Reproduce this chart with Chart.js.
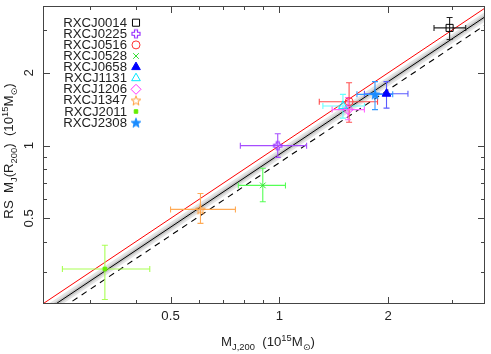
<!DOCTYPE html>
<html>
<head>
<meta charset="utf-8">
<script src="https://cdn.jsdelivr.net/npm/chart.js"></script>
<style>
  html, body { margin:0; padding:0; background:#fff; }
  #wrap { position:relative; width:491px; height:354px; }
</style>
</head>
<body>
<div id="wrap"><canvas id="massChart"></canvas></div>
<script>
//=========================================
// Data
//=========================================
const clusters = ['RXCJ0014','RXCJ0225','RXCJ0516','RXCJ0528','RXCJ0658',
                  'RXCJ1131','RXCJ1206','RXCJ1347','RXCJ2011','RXCJ2308'];

// M_J,200 (10^15 Msun) with lower / upper error ends
const massJ    = [2.96, 0.99, 1.56, 0.90, 1.98, 1.50, 1.55, 0.605, 0.329, 1.84];
const massJLo  = [2.68, 0.78, 1.29, 0.77, 1.72, 1.32, 1.40, 0.50,  0.251, 1.64];
const massJHi  = [3.28, 1.19, 1.87, 1.04, 2.27, 1.72, 1.72, 0.756, 0.438, 2.06];

// RS M_J(R200) (10^15 Msun)
const massRS   = [3.07, 1.00, 1.52, 0.685, 1.64, 1.46, 1.41, 0.545, 0.309, 1.63];
const massRSLo = [2.75, 0.894, 1.25, 0.586, 1.43, 1.30, 1.28, 0.477, 0.231, 1.41];
const massRSHi = [3.39, 1.12, 1.82, 0.806, 1.84, 1.63, 1.58, 0.634, 0.387, 1.84];

const majorTicks  = [0.5, 1, 2];
const majorLabels = ['0.5', '1', '2'];
const minorTicks  = [0.3, 0.4, 0.6, 0.7, 0.8, 0.9, 3];

// reference lines (end points)
const lineX   = [0.2, 4];
const equalY  = [0.2, 4];
const fitY    = [0.184, 3.68];
const dashY   = [0.170, 3.40];
const bandHi  = [0.193, 3.85];
const bandLo  = [0.176, 3.52];
const bandHi2 = [0.188, 3.76];
const bandLo2 = [0.180, 3.60];

//=========================================
// Styles
//=========================================
const markColors = ['#000000','#9933ff','#ff3333','#33dd33','#0000ff',
                    '#00e5ff','#ff33ff','#ff9933','#66ee00','#1a8cff'];
const errColors  = ['#222222','#a64dff','#ff4d4d','#55ff55','#5c5cff',
                    '#66ffff','#ff66ff','#ffaa55','#aaff55','#3399ff'];

const textStretch = 1.1;
const FONT = '"Liberation Sans", "DejaVu Sans", Arial, sans-serif';

function makeStar(fill, stroke, r){
    const c = document.createElement('canvas');
    const s = Math.ceil(r*2 + 4);
    c.width = s; c.height = s;
    const g = c.getContext('2d');
    g.translate(s/2, s/2 + 0.5);
    g.beginPath();
    for (let k = 0; k < 10; k++){
        const rr = k % 2 ? r*0.42 : r;
        const a = -Math.PI/2 + k*Math.PI/5;
        g.lineTo(rr*Math.cos(a), rr*Math.sin(a));
    }
    g.closePath();
    if (fill){ g.fillStyle = fill; g.fill(); }
    g.strokeStyle = stroke; g.lineWidth = 1; g.stroke();
    return c;
}

function makePlus(stroke, r, t){
    const c = document.createElement('canvas');
    const s = Math.ceil(r*2 + 4);
    c.width = s; c.height = s;
    const g = c.getContext('2d');
    g.translate(s/2, s/2);
    const p = [[-t,-r],[t,-r],[t,-t],[r,-t],[r,t],[t,t],[t,r],[-t,r],[-t,t],[-r,t],[-r,-t],[-t,-t]];
    g.beginPath();
    p.forEach(q => g.lineTo(q[0], q[1]));
    g.closePath();
    g.strokeStyle = stroke; g.lineWidth = 1.2; g.stroke();
    return c;
}

const pointStyles = ['rect', makePlus('#9933ff', 4, 1.5), 'circle', 'crossRot', 'triangle',
                     'triangle', 'rectRot', makeStar(null, '#ff9933', 5), 'rect', makeStar('#1a8cff', '#1a8cff', 5)];
const pointFills  = ['rgba(0,0,0,0)','rgba(0,0,0,0)','rgba(0,0,0,0)','rgba(0,0,0,0)','#0000ff',
                     'rgba(0,0,0,0)','rgba(0,0,0,0)','rgba(0,0,0,0)','#66ee00','#1a8cff'];
const pointRadii  = [5, 5, 4, 4, 5, 5, 5, 5, 2.5, 5];

//=========================================
// Helpers
//=========================================
function drawRich(ctx, segs, x, y, align, rotate){
    ctx.save();
    ctx.translate(x, y);
    if (rotate) ctx.rotate(rotate);
    ctx.scale(textStretch, 1);
    let w = 0;
    segs.forEach(s => {
        ctx.font = (s.sub || s.sup ? '8.5px ' : '12px ') + FONT;
        w += ctx.measureText(s.t).width;
    });
    let cx = align === 'center' ? -w/2 : (align === 'right' ? -w : 0);
    ctx.fillStyle = '#222';
    ctx.textAlign = 'left';
    ctx.textBaseline = 'alphabetic';
    segs.forEach(s => {
        ctx.font = (s.sub || s.sup ? '8.5px ' : '12px ') + FONT;
        ctx.fillText(s.t, cx, s.sub ? 3.5 : (s.sup ? -5 : 0));
        cx += ctx.measureText(s.t).width;
    });
    ctx.restore();
}

const xTitle = [{t:'M'},{t:'J,200',sub:true},{t:'  (10'},{t:'15',sup:true},{t:'M'},{t:'\u2299',sub:true},{t:')'}];
const yTitle = [{t:'RS  M'},{t:'J',sub:true},{t:'(R'},{t:'200',sub:true},{t:')  (10'},{t:'15',sup:true},{t:'M'},{t:'\u2299',sub:true},{t:')'}];

//------------------------------------
// Error bars (drawn under the markers)
//------------------------------------
const errorBarPlugin = {
    id: 'errorBars',
    beforeDatasetDraw(chart, args){
        if (args.index !== 0) return;
        const ctx = chart.ctx, xs = chart.scales.x, ys = chart.scales.y;
        const cap = 3;
        ctx.save();
        ctx.lineWidth = 1.1;
        for (let i = 0; i < clusters.length; i++){
            const px = xs.getPixelForValue(massJ[i]);
            const py = ys.getPixelForValue(massRS[i]);
            const x0 = xs.getPixelForValue(massJLo[i]);
            const x1 = xs.getPixelForValue(massJHi[i]);
            const y0 = ys.getPixelForValue(massRSLo[i]);
            const y1 = ys.getPixelForValue(massRSHi[i]);
            ctx.strokeStyle = errColors[i];
            ctx.beginPath();
            ctx.moveTo(x0, py); ctx.lineTo(x1, py);
            ctx.moveTo(x0, py - cap); ctx.lineTo(x0, py + cap);
            ctx.moveTo(x1, py - cap); ctx.lineTo(x1, py + cap);
            ctx.moveTo(px, y0); ctx.lineTo(px, y1);
            ctx.moveTo(px - cap, y0); ctx.lineTo(px + cap, y0);
            ctx.moveTo(px - cap, y1); ctx.lineTo(px + cap, y1);
            ctx.stroke();
        }
        ctx.restore();
    }
};

//------------------------------------
// Frame, ticks, labels, legend
//------------------------------------
const framePlugin = {
    id: 'frame',
    afterDraw(chart){
        const ctx = chart.ctx, a = chart.chartArea;
        const xs = chart.scales.x, ys = chart.scales.y;
        ctx.save();
        ctx.strokeStyle = '#444';
        ctx.lineWidth = 1;
        ctx.strokeRect(a.left + 0.5, a.top + 0.5, a.right - a.left - 1, a.bottom - a.top - 1);

        ctx.beginPath();
        const tick = (v, len) => {
            const px = Math.round(xs.getPixelForValue(v)) + 0.5;
            ctx.moveTo(px, a.bottom); ctx.lineTo(px, a.bottom - len);
            ctx.moveTo(px, a.top); ctx.lineTo(px, a.top + len);
            const py = Math.round(ys.getPixelForValue(v)) + 0.5;
            ctx.moveTo(a.left, py); ctx.lineTo(a.left + len, py);
            ctx.moveTo(a.right, py); ctx.lineTo(a.right - len, py);
        };
        majorTicks.forEach(v => tick(v, 7));
        minorTicks.forEach(v => tick(v, 4));
        ctx.stroke();
        ctx.restore();

        majorTicks.forEach((v, i) => {
            drawRich(ctx, [{t: majorLabels[i]}], xs.getPixelForValue(v), a.bottom + 16, 'center');
            drawRich(ctx, [{t: majorLabels[i]}], a.left - 10, ys.getPixelForValue(v), 'center', -Math.PI/2);
        });
        drawRich(ctx, xTitle, (a.left + a.right)/2 + 4, 346, 'center');
        drawRich(ctx, yTitle, 13, (a.top + a.bottom)/2 - 4, 'center', -Math.PI/2);

        // legend, marker to the right of the name
        clusters.forEach((name, i) => {
            const base = 26.7 + 11.1*i;
            drawRich(ctx, [{t: name}], 127, base, 'right');
            ctx.save();
            ctx.strokeStyle = markColors[i];
            ctx.fillStyle = pointFills[i];
            ctx.lineWidth = 1;
            Chart.helpers.drawPoint(ctx, {pointStyle: pointStyles[i], radius: pointRadii[i], rotation: 0, borderWidth: 1}, 136, base - 4);
            ctx.restore();
        });
    }
};

//=========================================
// Chart
//=========================================
const pts = ys => lineX.map((x, i) => ({x: x, y: ys[i]}));
const lineDs = (ys, color, width, dash, fill, bg) => ({
    type: 'scatter', data: pts(ys), showLine: true, pointRadius: 0,
    borderColor: color, borderWidth: width, borderDash: dash || [],
    fill: fill || false, backgroundColor: bg || 'rgba(0,0,0,0)'
});

new Chart(document.getElementById('massChart'), {
    type: 'scatter',
    data: {
        datasets: [
            {
                data: massJ.map((x, i) => ({x: x, y: massRS[i]})),
                pointStyle: pointStyles,
                pointRadius: pointRadii,
                pointBorderColor: markColors,
                pointBackgroundColor: pointFills,
                pointBorderWidth: 1
            },
            lineDs(equalY, '#ff0000', 1),
            lineDs(fitY, '#000000', 1),
            lineDs(dashY, '#000000', 1.1, [6, 5]),
            lineDs(bandHi2, 'rgba(0,0,0,0)', 0, null, '+1', '#c6c6c6'),
            lineDs(bandLo2, 'rgba(0,0,0,0)', 0),
            lineDs(bandHi, 'rgba(0,0,0,0)', 0, null, '+1', '#e4e4e4'),
            lineDs(bandLo, 'rgba(0,0,0,0)', 0)
        ]
    },
    options: {
        responsive: true,
        maintainAspectRatio: false,
        animation: false,
        layout: { padding: { left: 43, top: 1, right: 1, bottom: 50 } },
        plugins: { legend: { display: false }, tooltip: { enabled: false } },
        scales: {
            x: { type: 'logarithmic', min: 0.2218, max: 3.709, display: false },
            y: { type: 'logarithmic', min: 0.2213, max: 3.782, display: false }
        }
    },
    plugins: [errorBarPlugin, framePlugin]
});
</script>
</body>
</html>
